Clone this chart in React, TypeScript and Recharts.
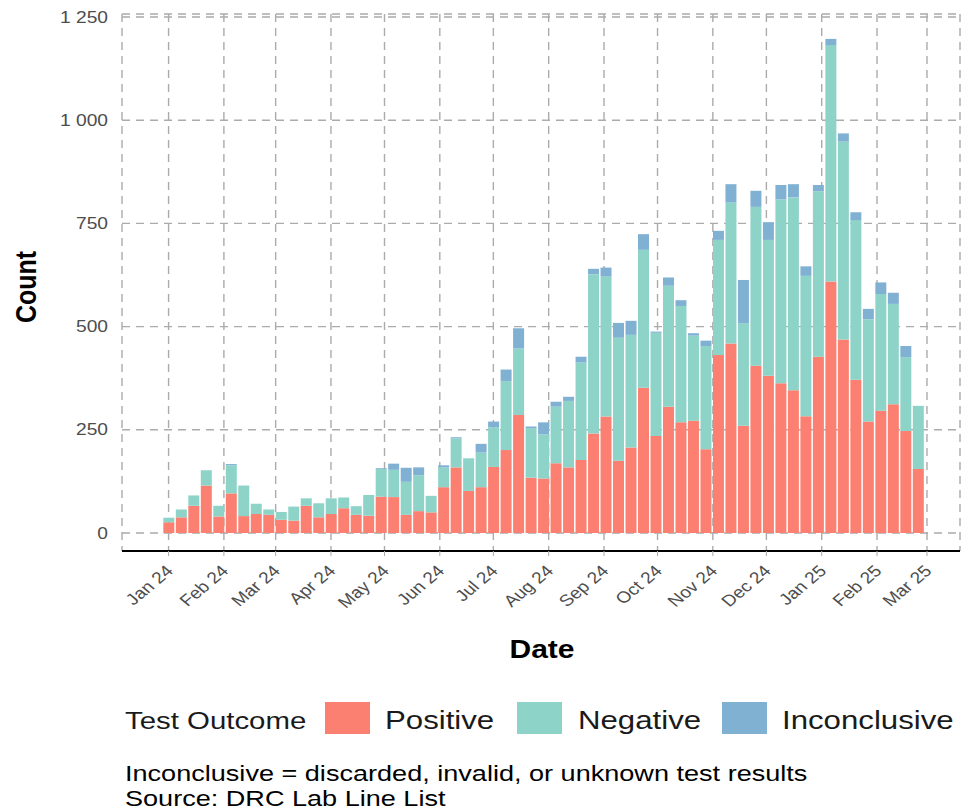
import React from 'react';
import { BarChart, Bar, XAxis, YAxis, CartesianGrid } from 'recharts';

// weekly test counts, first week starting 2024-01-01
const positive = [
  26, 38, 66, 115, 40, 96, 41, 46, 44, 32, 30, 66, 38, 46, 60, 44, 42, 88, 87, 44,
  53, 50, 111, 159, 102, 111, 160, 201, 286, 134, 132, 169, 159, 177, 241, 282, 175, 207, 352, 235,
  306, 268, 272, 203, 431, 459, 260, 405, 381, 363, 346, 283, 427, 609, 469, 371, 270, 296, 312, 247,
  155,
];
const negative = [
  11, 19, 25, 37, 26, 68, 74, 25, 13, 19, 34, 18, 34, 38, 26, 21, 50, 67, 66, 80,
  87, 40, 48, 70, 79, 84, 96, 167, 161, 120, 107, 137, 161, 236, 386, 339, 298, 273, 334, 250,
  293, 282, 206, 250, 279, 342, 248, 385, 329, 445, 467, 340, 401, 573, 479, 387, 248, 283, 243, 179,
  153,
];
const inconclusive = [
  0, 0, 0, 0, 0, 3, 0, 0, 0, 0, 0, 0, 0, 0, 0, 0, 0, 2, 15, 34,
  19, 0, 5, 3, 0, 21, 14, 28, 49, 4, 29, 12, 10, 14, 13, 22, 36, 34, 38, 3,
  20, 14, 6, 13, 22, 44, 105, 39, 43, 35, 32, 23, 15, 15, 20, 19, 25, 28, 27, 27,
  0,
];

const monthTicks = [
  '2024-01-01', '2024-02-01', '2024-03-01', '2024-04-01', '2024-05-01', '2024-06-01',
  '2024-07-01', '2024-08-01', '2024-09-01', '2024-10-01', '2024-11-01', '2024-12-01',
  '2025-01-01', '2025-02-01', '2025-03-01',
];
const monthLabels = [
  'Jan 24', 'Feb 24', 'Mar 24', 'Apr 24', 'May 24', 'Jun 24', 'Jul 24', 'Aug 24',
  'Sep 24', 'Oct 24', 'Nov 24', 'Dec 24', 'Jan 25', 'Feb 25', 'Mar 25',
];
const yTicks = [0, 250, 500, 750, 1000, 1250];

const DAY = 86400000;
const firstWeek = Date.UTC(2024, 0, 1);
const tickTimes = monthTicks.map((d) => Date.parse(d + 'T00:00:00Z'));

const data = positive.map((p, i) => ({
  week: firstWeek + i * 7 * DAY,
  positive: p,
  negative: negative[i],
  inconclusive: inconclusive[i],
}));

const COLORS = { positive: '#FB8072', negative: '#8DD3C7', inconclusive: '#80B1D3' };
const FONT = '"Liberation Sans", Arial, Helvetica, sans-serif';
const SX = 1.2; // the reference is stretched horizontally

const fmtCount = (v: number) =>
  v >= 1000 ? `${Math.floor(v / 1000)} ${String(v % 1000).padStart(3, '0')}` : String(v);

const YTick = ({ x, y, payload }: any) => (
  <text
    transform={`translate(${x},${y}) scale(${SX},1)`}
    textAnchor='end'
    dy='0.35em'
    fontSize={16}
    fill='#4D4D4D'
    fontFamily={FONT}
  >
    {fmtCount(payload.value)}
  </text>
);

const XTick = ({ x, y, payload }: any) => {
  const idx = tickTimes.indexOf(payload.value);
  return (
    <text
      transform={`translate(${x + 1},${y + 10}) scale(${SX},1) rotate(-45)`}
      textAnchor='end'
      dy='0.35em'
      fontSize={16}
      fill='#4D4D4D'
      fontFamily={FONT}
    >
      {idx >= 0 ? monthLabels[idx] : ''}
    </text>
  );
};

const legendItems = [
  { key: 'positive', label: 'Positive', rect: 325, text: 385 },
  { key: 'negative', label: 'Negative', rect: 517, text: 578 },
  { key: 'inconclusive', label: 'Inconclusive', rect: 722, text: 782 },
];

export default function App() {
  return (
    <div style={{ position: 'absolute', left: 0, top: 0, width: 963, height: 811, background: '#fff' }}>
      <BarChart
        width={963}
        height={811}
        data={data}
        margin={{ top: 14, right: 3, left: 62, bottom: 200 }}
      >
        <CartesianGrid stroke='#ababab' strokeWidth={1.4} strokeDasharray='8 6' />
        <XAxis
          dataKey='week'
          type='number'
          scale='time'
          domain={[firstWeek - 26.1 * DAY, tickTimes[14] + 18.5 * DAY]}
          ticks={tickTimes}
          interval={0}
          allowDataOverflow
          height={60}
          axisLine={{ stroke: '#000', strokeWidth: 2 }}
          tickLine={{ stroke: '#ababab' }}
          tickSize={5}
          tick={<XTick />}
        />
        <YAxis
          type='number'
          domain={[-43.6, 1257.3]}
          ticks={yTicks}
          interval={0}
          allowDataOverflow
          width={60}
          axisLine={false}
          tickLine={false}
          tickSize={0}
          tickMargin={14}
          tick={<YTick />}
        />
        <Bar dataKey='positive' stackId='a' fill={COLORS.positive} barSize={11} isAnimationActive={false} />
        <Bar dataKey='negative' stackId='a' fill={COLORS.negative} barSize={11} isAnimationActive={false} />
        <Bar dataKey='inconclusive' stackId='a' fill={COLORS.inconclusive} barSize={11} isAnimationActive={false} />
      </BarChart>
      <svg
        width={963}
        height={811}
        style={{ position: 'absolute', left: 0, top: 0, pointerEvents: 'none' }}
        fontFamily={FONT}
      >
        <text
          transform={`translate(36,287) scale(${SX},1) rotate(-90)`}
          textAnchor='middle'
          fontSize={25}
          fontWeight='bold'
          fill='#000'
        >
          Count
        </text>
        <text
          transform={`translate(542,658) scale(${SX},1)`}
          textAnchor='middle'
          fontSize={25}
          fontWeight='bold'
          fill='#000'
        >
          Date
        </text>
        <text transform={`translate(125,729) scale(${SX},1)`} fontSize={24.5} fill='#1a1a1a'>
          Test Outcome
        </text>
        {legendItems.map((it) => (
          <g key={it.key}>
            <rect x={it.rect} y={702} width={45} height={32} fill={(COLORS as any)[it.key]} />
            <text transform={`translate(${it.text},729) scale(${SX},1)`} fontSize={26} fill='#1a1a1a'>
              {it.label}
            </text>
          </g>
        ))}
        <text transform={`translate(125,781) scale(1.26,1)`} fontSize={21.5} fill='#000'>
          Inconclusive = discarded, invalid, or unknown test results
        </text>
        <text transform={`translate(125,806) scale(1.26,1)`} fontSize={21.5} fill='#000'>
          Source: DRC Lab Line List
        </text>
      </svg>
    </div>
  );
}
